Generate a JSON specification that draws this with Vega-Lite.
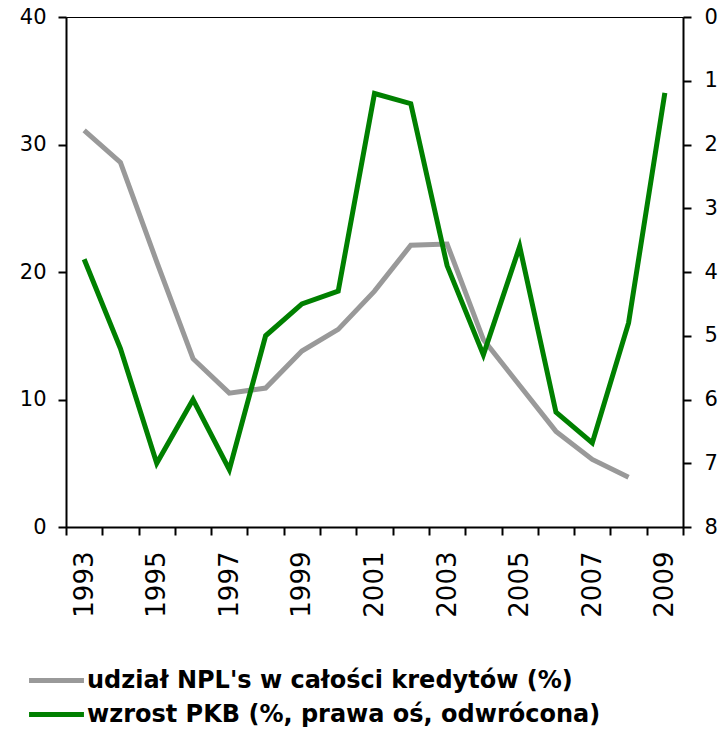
{
  "$schema": "https://vega.github.io/schema/vega-lite/v6.json",
  "autosize": {"type": "none"},
  "padding": {"left": 66, "top": 17, "right": 39, "bottom": 202},
  "width": 617,
  "height": 510,
  "background": "white",
  "config": {
    "view": {"stroke": "black", "strokeWidth": 1},
    "font": "DejaVu Sans",
    "axis": {
      "labelFont": "DejaVu Sans",
      "labelFontSize": 21,
      "labelColor": "black",
      "domainColor": "black",
      "domainWidth": 2,
      "tickColor": "black",
      "tickWidth": 2,
      "tickSize": 8,
      "grid": false,
      "title": null
    }
  },
  "data": {
    "values": [
      {"year": 1993, "npl": 31.1, "pkb": 3.8},
      {"year": 1994, "npl": 28.6, "pkb": 5.2},
      {"year": 1995, "npl": 20.8, "pkb": 7.0},
      {"year": 1996, "npl": 13.2, "pkb": 6.0},
      {"year": 1997, "npl": 10.5, "pkb": 7.1},
      {"year": 1998, "npl": 10.9, "pkb": 5.0},
      {"year": 1999, "npl": 13.8, "pkb": 4.5},
      {"year": 2000, "npl": 15.5, "pkb": 4.3},
      {"year": 2001, "npl": 18.5, "pkb": 1.2},
      {"year": 2002, "npl": 22.1, "pkb": 1.36},
      {"year": 2003, "npl": 22.2, "pkb": 3.9},
      {"year": 2004, "npl": 14.7, "pkb": 5.3},
      {"year": 2005, "npl": 11.1, "pkb": 3.6},
      {"year": 2006, "npl": 7.5, "pkb": 6.2},
      {"year": 2007, "npl": 5.3, "pkb": 6.68},
      {"year": 2008, "npl": 3.9, "pkb": 4.8},
      {"year": 2009, "npl": null, "pkb": 1.19}
    ]
  },
  "encoding": {
    "x": {
      "field": "year",
      "type": "ordinal",
      "bandPosition": 0.5,
      "scale": {"type": "band", "paddingInner": 0, "paddingOuter": 0},
      "axis": {
        "tickBand": "extent",
        "labelAngle": -90,
        "labelAlign": "right",
        "labelBaseline": "middle",
        "labelFontSize": 26,
        "labelPadding": 16,
        "labelExpr": "datum.value % 2 == 1 ? datum.label : ''",
        "labelOverlap": false
      }
    }
  },
  "layer": [
    {
      "mark": {"type": "line", "strokeWidth": 5, "strokeJoin": "miter"},
      "encoding": {
        "y": {
          "field": "npl",
          "type": "quantitative",
          "scale": {"domain": [0, 40], "nice": false},
          "axis": {"values": [0, 10, 20, 30, 40], "orient": "left", "labelPadding": 12}
        },
        "color": {"datum": "udział NPL's w całości kredytów (%)"}
      }
    },
    {
      "mark": {"type": "line", "strokeWidth": 5, "strokeJoin": "miter"},
      "encoding": {
        "y": {
          "field": "pkb",
          "type": "quantitative",
          "scale": {"domain": [0, 8], "reverse": true, "nice": false},
          "axis": {"values": [0, 1, 2, 3, 4, 5, 6, 7, 8], "orient": "right", "labelPadding": 13}
        },
        "color": {
          "datum": "wzrost PKB (%, prawa oś, odwrócona)",
          "scale": {
            "domain": ["udział NPL's w całości kredytów (%)", "wzrost PKB (%, prawa oś, odwrócona)"],
            "range": ["#999999", "#008000"]
          },
          "legend": {
            "orient": "none",
            "legendX": -27,
            "legendY": 646,
            "direction": "vertical",
            "title": null,
            "symbolType": "M-1.83,0H1.83",
            "symbolStrokeWidth": 5,
            "symbolSize": 900,
            "labelFont": "DejaVu Sans",
            "labelFontWeight": "bold",
            "labelFontSize": 24,
            "labelColor": "black",
            "labelLimit": 0,
            "labelOffset": 13,
            "rowPadding": 4
          }
        }
      }
    }
  ],
  "resolve": {"scale": {"y": "independent"}}
}
